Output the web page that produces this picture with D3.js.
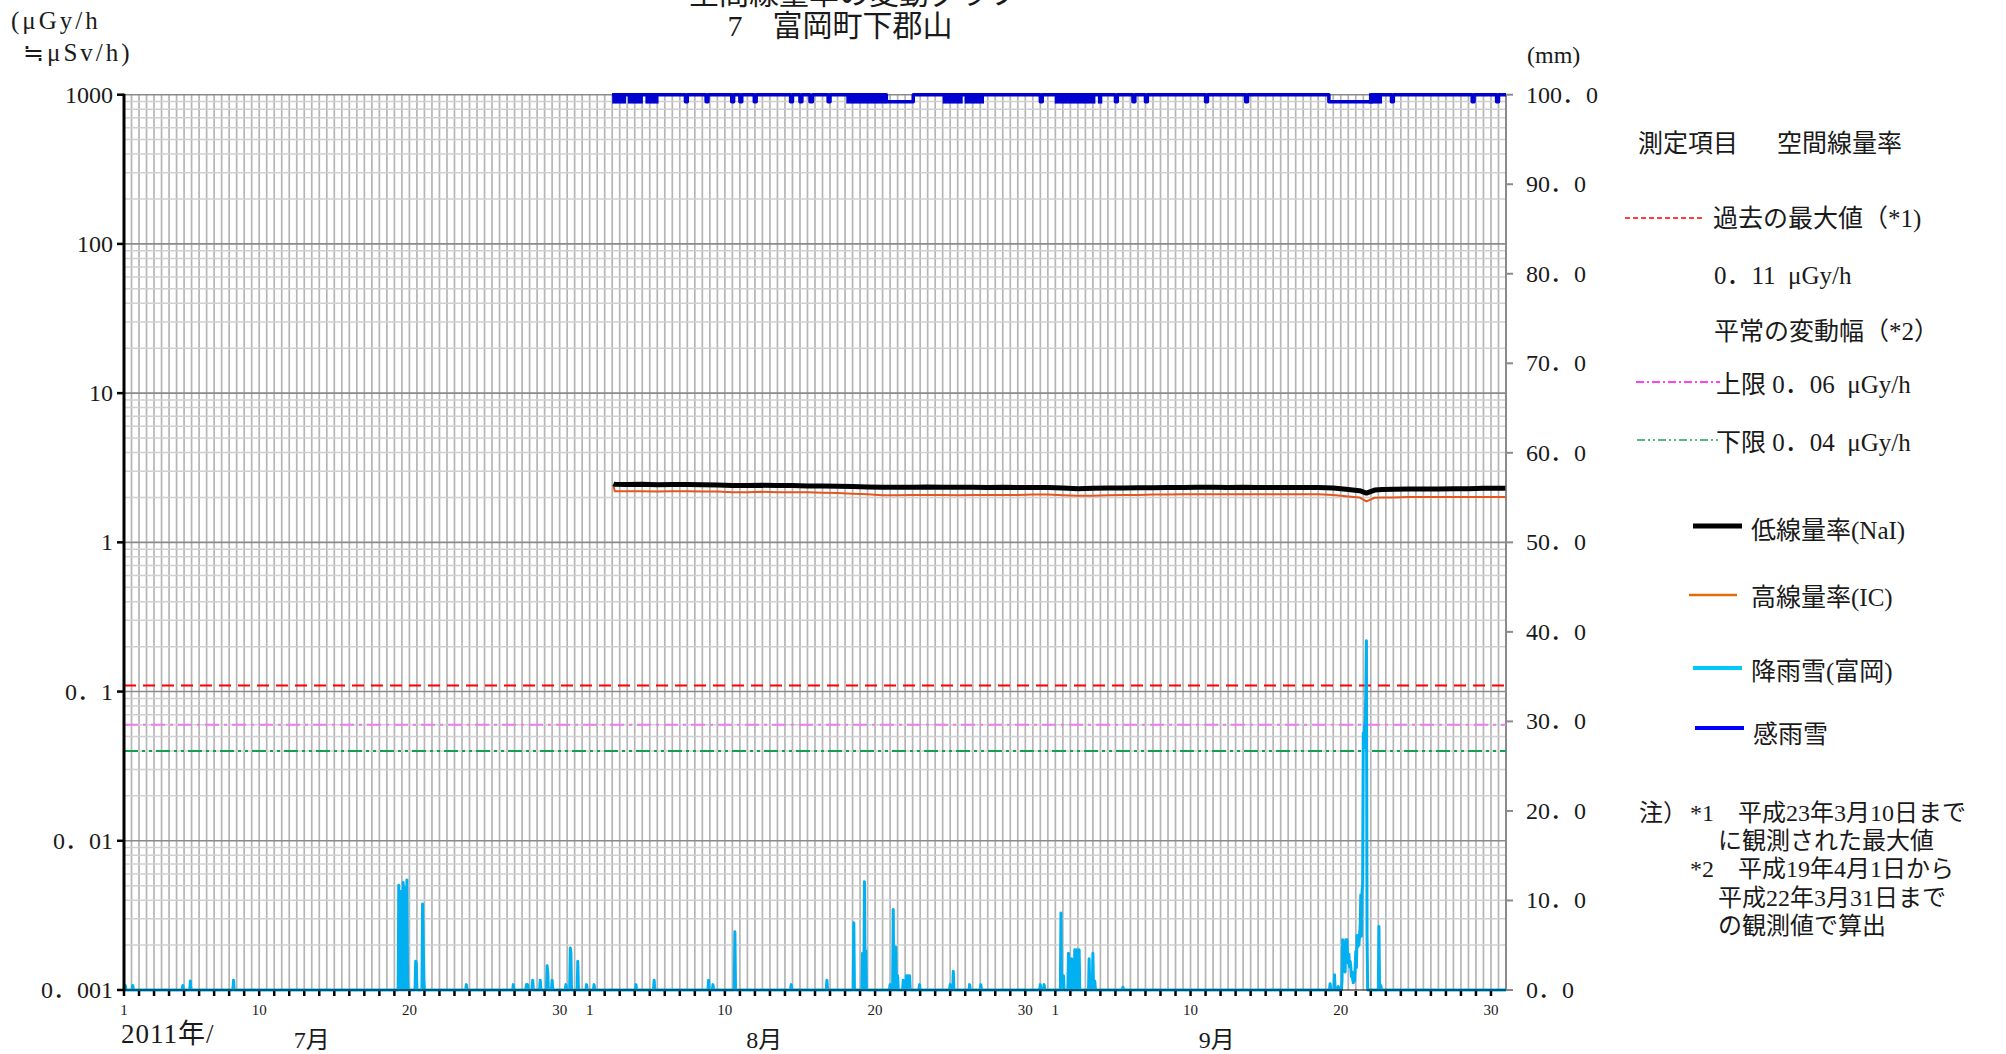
<!DOCTYPE html>
<html><head><meta charset="utf-8">
<script src="https://cdn.jsdelivr.net/npm/d3@7"></script>
<style>
body{margin:0;background:#fff;}
svg{display:block;}
text{font-family:'Liberation Serif','Noto Sans CJK JP',serif;fill:#1a1a1a;white-space:pre;}
</style></head><body>
<svg id="c" width="2006" height="1054"></svg>
<script>
// ---------------- data ----------------
const leftTicks = [0.001, 0.01, 0.1, 1, 10, 100, 1000];
const leftTickLabels = ["0．001", "0．01", "0．1", "1", "10", "100", "1000"];
const rightTicks = [0, 10, 20, 30, 40, 50, 60, 70, 80, 90, 100];
const rightTickLabels = ["0．0","10．0","20．0","30．0","40．0","50．0","60．0","70．0","80．0","90．0","100．0"];
const dayLabelDates = ["7/1 00","7/10 00","7/20 00","7/30 00","8/1 00","8/10 00","8/20 00","8/30 00","9/1 00","9/10 00","9/20 00","9/30 00"];
const dayLabels = ["1","10","20","30","1","10","20","30","1","10","20","30"];
const monthLabels = ["7月", "8月", "9月"];
const monthLabelDates = ["7/13 12", "8/12 15", "9/11 18"];

// reference levels (µGy/h)
const refNames = ["過去の最大値", "上限", "下限"];
const refValues = [0.11, 0.06, 0.04];

// dose rate (µGy/h)
const doseTimes = ["8/2 14","8/2 16","8/3 12","8/4 12","8/5 12","8/6 12","8/7 12","8/8 12","8/9 12","8/10 12",
 "8/11 12","8/12 12","8/13 12","8/14 12","8/15 12","8/16 12","8/17 12","8/18 12","8/19 12","8/20 12",
 "8/21 12","8/22 12","8/23 12","8/24 12","8/25 12","8/26 12","8/27 12","8/28 12","8/29 12","8/30 12","8/31 12",
 "9/1 12","9/2 12","9/3 12","9/4 12","9/5 12","9/6 12","9/7 12","9/8 12","9/9 12","9/10 12",
 "9/11 12","9/12 12","9/13 12","9/14 12","9/15 12","9/16 12","9/17 12","9/18 12","9/19 12",
 "9/20 12","9/21 06","9/21 17","9/22 06","9/22 18","9/23 12","9/24 12","9/25 12","9/26 12","9/27 12",
 "9/28 12","9/29 12","9/30 23"];
const naiValues = [2.47,2.45,2.44,2.45,2.43,2.44,2.44,2.43,2.42,2.40,
 2.40,2.41,2.40,2.40,2.39,2.39,2.38,2.37,2.35,2.34,
 2.34,2.34,2.35,2.34,2.34,2.34,2.33,2.34,2.33,2.33,2.33,
 2.31,2.29,2.30,2.31,2.31,2.32,2.32,2.33,2.33,2.34,
 2.34,2.33,2.34,2.33,2.33,2.33,2.33,2.33,2.31,
 2.26,2.22,2.14,2.24,2.26,2.27,2.28,2.28,2.28,2.29,
 2.29,2.30,2.30];
const icValues = [2.42,2.20,2.20,2.20,2.19,2.20,2.20,2.19,2.19,2.17,
 2.17,2.18,2.17,2.17,2.17,2.15,2.14,2.12,2.10,2.07,
 2.07,2.08,2.08,2.08,2.07,2.08,2.08,2.08,2.08,2.09,2.09,
 2.07,2.05,2.05,2.07,2.08,2.08,2.09,2.09,2.10,2.10,
 2.10,2.10,2.10,2.10,2.10,2.10,2.10,2.10,2.08,
 2.03,2.00,1.88,1.99,2.00,2.00,2.01,2.01,2.01,2.01,
 2.01,2.01,2.01];

// precipitation (mm/h), hours not listed are 0
const rainTimes = ["7/1 02","7/1 14","7/4 22","7/5 10","7/8 07",
 "7/19 07","7/19 08","7/19 10","7/19 11","7/19 14","7/19 15","7/19 18","7/19 20","7/19 21",
 "7/20 10","7/20 11","7/20 21","7/20 22","7/20 23","7/23 19","7/26 22","7/27 19","7/27 21",
 "7/28 05","7/28 17","7/29 04","7/29 05","7/29 12","7/30 10","7/30 17","7/30 18","7/31 05","7/31 19",
 "8/1 07","8/4 02","8/5 07","8/8 22","8/9 05","8/10 16","8/14 10","8/16 19","8/18 14",
 "8/19 04","8/19 07","8/19 09","8/21 00","8/21 05","8/21 09","8/21 12","8/21 21",
 "8/22 02","8/22 05","8/22 07","8/22 23","8/25 00","8/25 05","8/26 07","8/27 01","8/31 00","8/31 06",
 "9/1 09","9/1 13","9/1 21","9/2 02","9/2 07","9/2 10","9/2 14","9/3 06","9/3 12","9/3 15","9/5 12",
 "9/19 07","9/19 14","9/19 20",
 "9/20 02","9/20 03","9/20 04","9/20 05","9/20 06","9/20 07","9/20 08","9/20 09","9/20 10","9/20 11",
 "9/20 12","9/20 13","9/20 14","9/20 15","9/20 16","9/20 17","9/20 18","9/20 19","9/20 20","9/20 21",
 "9/20 22","9/20 23",
 "9/21 00","9/21 01","9/21 02","9/21 03","9/21 04","9/21 05","9/21 06","9/21 07","9/21 08","9/21 09",
 "9/21 10","9/21 11","9/21 12","9/21 13","9/21 14","9/21 15","9/21 16","9/21 17","9/21 18",
 "9/22 13","9/22 16"];
const rainMm = [0.5,0.5,0.5,1.0,1.1,
 11.7,2.0,11.0,3.0,12.0,4.0,11.5,12.3,1.0,
 3.2,3.0,9.6,5.6,1.2,0.6,0.6,0.6,0.6,
 1.1,1.1,2.7,2.0,1.1,0.6,4.7,4.1,3.2,0.6,
 0.6,0.6,1.1,1.1,0.6,6.5,0.6,1.1,7.5,
 4.1,12.1,4.4,0.6,9.0,4.8,1.6,1.1,
 1.6,1.6,1.6,0.6,0.6,2.1,0.6,0.6,0.6,0.6,
 8.6,1.6,4.1,3.5,4.5,4.5,4.5,3.5,4.1,1.0,0.3,
 0.7,1.7,0.4,
 1.0,5.6,3.0,5.0,4.5,2.0,5.6,4.0,5.6,3.5,
 3.0,4.0,2.6,3.2,2.6,1.5,2.0,1.2,0.8,1.5,
 1.0,2.5,
 4.3,2.5,6.1,4.8,6.0,5.0,6.1,7.1,10.6,6.0,
 11.0,12.0,28.7,27.0,29.5,30.0,33.0,39.0,6.0,
 7.1,0.5];

// rain sensor (感雨雪): periods when rain was sensed
const senseOn = "8/2 12";
const senseStart = ["8/2 12","8/3 13","8/4 17","8/7 09","8/8 18","8/10 11","8/11 00","8/11 23","8/14 09","8/15 00","8/15 16",
 "8/16 21","8/18 02","8/20 18","8/24 12","8/25 23","8/31 00","8/31 23","9/3 20","9/5 00","9/6 04","9/7 00",
 "9/11 00","9/13 16","9/19 05","9/21 21","9/23 09","9/28 18","9/30 09"];
const senseEnd = ["8/3 10","8/4 13","8/5 14","8/7 12","8/8 21","8/10 14","8/11 03","8/12 02","8/14 12","8/15 03","8/15 20",
 "8/17 00","8/20 18","8/22 13","8/25 20","8/27 06","8/31 03","9/3 16","9/4 03","9/5 03","9/6 07","9/7 03",
 "9/11 03","9/13 19","9/22 02","9/22 18","9/23 12","9/28 21","9/30 12"];
const senseKind = ["f","f","f","d","d","d","d","d","d","d","d",
 "d","f","d","f","f","d","f","f","d","d","d",
 "d","d","d","f","d","d","d"];

// ---------------- layout ----------------
const parse = s => d3.timeParse("%Y/%m/%d %H")("2011/" + s);
const L = 124, R = 1506, T = 94.7, B = 990;
const x = d3.scaleTime().domain([new Date(2011,6,1), new Date(2011,9,1)]).range([L, R]);
const yL = d3.scaleLog().domain([0.001, 1000]).range([B, T]);
const yR = d3.scaleLinear().domain([0, 100]).range([B, T]);

const svg = d3.select("#c");
svg.append("defs").append("clipPath").attr("id","clip")
  .append("rect").attr("x", L).attr("y", T - 4).attr("width", R - L).attr("height", B - T + 6);

// grid: vertical every 12 hours
const gGrid = svg.append("g");
const halfDays = d3.timeHour.every(12).range(new Date(2011,6,1,12), new Date(2011,9,1));
gGrid.selectAll("line.v").data(halfDays).join("line")
  .attr("x1", d => x(d)).attr("x2", d => x(d)).attr("y1", T).attr("y2", B)
  .attr("stroke", "#b5b5b5").attr("stroke-width", 1.7);
// minor horizontal
const minor = [];
for (let e = -3; e < 3; e++) for (let k = 2; k <= 9; k++) minor.push(k * Math.pow(10, e));
gGrid.selectAll("line.hm").data(minor).join("line")
  .attr("x1", L).attr("x2", R).attr("y1", d => yL(d)).attr("y2", d => yL(d))
  .attr("stroke", "#d0d0d0").attr("stroke-width", 1.5);
gGrid.selectAll("line.hM").data(leftTicks.slice(1, -1)).join("line")
  .attr("x1", L).attr("x2", R).attr("y1", d => yL(d)).attr("y2", d => yL(d))
  .attr("stroke", "#8a8a8a").attr("stroke-width", 1.6);
// top border & right axis
svg.append("line").attr("x1", L).attr("x2", R).attr("y1", T).attr("y2", T).attr("stroke", "#8a8a8a").attr("stroke-width", 1.6);
svg.append("line").attr("x1", R).attr("x2", R).attr("y1", T).attr("y2", B).attr("stroke", "#8a8a8a").attr("stroke-width", 2);

// reference lines
const refColors = ["#ff0000", "#f07af0", "#10a050"];
const refDash = ["12,7", "14,5,3,5", "14,4,3,4,3,4"];
svg.append("g").selectAll("line").data(refValues).join("line")
  .attr("x1", L).attr("x2", R).attr("y1", d => yL(d)).attr("y2", d => yL(d))
  .attr("stroke", (d,i) => refColors[i]).attr("stroke-width", 2)
  .attr("stroke-dasharray", (d,i) => refDash[i]);

const plot = svg.append("g").attr("clip-path", "url(#clip)");

// dose lines
const doseT = doseTimes.map(parse);
const lineL = d3.line().x(d => x(d[0])).y(d => yL(d[1]));
plot.append("path").datum(doseT.map((t,i) => [t, icValues[i]]))
  .attr("d", lineL).attr("fill", "none").attr("stroke", "#e4561c").attr("stroke-width", 2).attr("stroke-linejoin", "round");
plot.append("path").datum(doseT.map((t,i) => [t, naiValues[i]]))
  .attr("d", lineL).attr("fill", "none").attr("stroke", "#000").attr("stroke-width", 5).attr("stroke-linejoin", "round");

// rain line (hourly)
const rainMap = new Map(rainTimes.map((t,i) => [+parse(t), rainMm[i]]));
const hours = d3.timeHour.range(new Date(2011,6,1,0), new Date(2011,9,1,0));
const rainSeries = hours.map(h => [h, rainMap.get(+h) || 0]);
rainSeries.push([new Date(2011,9,1,0), 0]);
const lineR = d3.line().x(d => x(d[0])).y(d => yR(d[1]));
plot.append("path").datum(rainSeries).attr("d", lineR)
  .attr("fill", "none").attr("stroke", "#00b0f0").attr("stroke-width", 3).attr("stroke-linejoin", "round");

// rain sensor line
const sensePts = [[parse(senseOn), 100]];
const dip = 99.2;
senseStart.forEach((s,i) => {
  if (senseKind[i] === "d") {
    sensePts.push([parse(s), 100], [parse(s), dip], [parse(senseEnd[i]), dip], [parse(senseEnd[i]), 100]);
  }
});
sensePts.push([new Date(2011,9,1,0), 100]);
sensePts.sort((a,b) => a[0] - b[0]);
plot.selectAll("rect.sf").data(senseStart.map((s,i) => i).filter(i => senseKind[i] === "f")).join("rect")
  .attr("x", i => x(parse(senseStart[i]))).attr("width", i => x(parse(senseEnd[i])) - x(parse(senseStart[i])))
  .attr("y", yR(100) - 1.5).attr("height", yR(dip) - yR(100) + 3.2).attr("fill", "#0000d0");
plot.append("path").datum(sensePts).attr("d", lineR)
  .attr("fill", "none").attr("stroke", "#0000d0").attr("stroke-width", 3.5).attr("stroke-linejoin", "round");

// axes
svg.append("line").attr("x1", L).attr("x2", R).attr("y1", B).attr("y2", B).attr("stroke", "#000").attr("stroke-width", 1);
svg.append("line").attr("x1", L).attr("x2", L).attr("y1", T - 1).attr("y2", B + 1).attr("stroke", "#000").attr("stroke-width", 3);
svg.append("g").selectAll("line").data(leftTicks).join("line")
  .attr("x1", L - 7).attr("x2", L).attr("y1", d => yL(d)).attr("y2", d => yL(d)).attr("stroke", "#000").attr("stroke-width", 2.5);
svg.append("g").selectAll("text").data(leftTicks).join("text")
  .attr("x", 113).attr("y", d => yL(d) + 8).attr("text-anchor", "end")
  .style("font-size", "24px").text((d,i) => leftTickLabels[i]);
svg.append("g").selectAll("line").data(rightTicks).join("line")
  .attr("x1", R).attr("x2", R + 7).attr("y1", d => yR(d)).attr("y2", d => yR(d)).attr("stroke", "#8a8a8a").attr("stroke-width", 2);
svg.append("g").selectAll("text").data(rightTicks).join("text")
  .attr("x", 1526).attr("y", d => yR(d) + 8)
  .style("font-size", "24px").text((d,i) => rightTickLabels[i]);

// daily ticks
const days = d3.timeDay.range(new Date(2011,6,1), new Date(2011,9,1));
svg.append("g").selectAll("line").data(days).join("line")
  .attr("x1", d => x(d)).attr("x2", d => x(d)).attr("y1", B + 1).attr("y2", B + 6)
  .attr("stroke", "#000").attr("stroke-width", 2.5);
svg.append("g").selectAll("text").data(dayLabelDates).join("text")
  .attr("x", d => x(parse(d))).attr("y", 1015).attr("text-anchor", "middle")
  .style("font-size", "15px").text((d,i) => dayLabels[i]);
svg.append("g").selectAll("text").data(monthLabelDates).join("text")
  .attr("x", d => x(parse(d))).attr("y", 1048).attr("text-anchor", "middle")
  .style("font-size", "24px").text((d,i) => monthLabels[i]);
svg.append("text").attr("x", 121).attr("y", 1043).style("font-size", "27px").style("letter-spacing", "1px").text("2011年/");

// titles & units
svg.append("text").attr("x", 854).attr("y", 4).attr("text-anchor", "middle").style("font-size", "30px").text("空間線量率の変動グラフ");
svg.append("text").attr("x", 840).attr("y", 36).attr("text-anchor", "middle").style("font-size", "30px").text("7　富岡町下郡山");
svg.append("text").attr("x", 11).attr("y", 29).style("font-size", "25px").style("letter-spacing", "3px").text("(μGy/h");
svg.append("text").attr("x", 23).attr("y", 61).style("font-size", "25px").style("letter-spacing", "3px").text("≒μSv/h)");
svg.append("text").attr("x", 1527).attr("y", 63).style("font-size", "24px").text("(mm)");

// legend
const lg = svg.append("g");
const fs = "25px";
lg.append("text").attr("x", 1638).attr("y", 152).style("font-size", fs).text("測定項目");
lg.append("text").attr("x", 1777).attr("y", 152).style("font-size", fs).text("空間線量率");
lg.append("line").attr("x1", 1625).attr("x2", 1703).attr("y1", 218).attr("y2", 218).attr("stroke", "#ff0000").attr("stroke-width", 1.5).attr("stroke-dasharray", "5,3");
lg.append("text").attr("x", 1713).attr("y", 227).style("font-size", fs).text("過去の最大値（*1)");
lg.append("text").attr("x", 1714).attr("y", 284).style("font-size", fs).text("0．11  μGy/h");
lg.append("text").attr("x", 1714).attr("y", 340).style("font-size", fs).text("平常の変動幅（*2）");
lg.append("line").attr("x1", 1636).attr("x2", 1720).attr("y1", 382).attr("y2", 382).attr("stroke", "#ff00ff").attr("stroke-width", 1.5).attr("stroke-dasharray", "8,3,2,3");
lg.append("text").attr("x", 1716).attr("y", 393).style("font-size", fs).text("上限 0．06  μGy/h");
lg.append("line").attr("x1", 1637).attr("x2", 1718).attr("y1", 440).attr("y2", 440).attr("stroke", "#20a060").attr("stroke-width", 1.5).attr("stroke-dasharray", "8,3,2,3,2,3");
lg.append("text").attr("x", 1716).attr("y", 451).style("font-size", fs).text("下限 0．04  μGy/h");
lg.append("line").attr("x1", 1693).attr("x2", 1742).attr("y1", 526).attr("y2", 526).attr("stroke", "#000").attr("stroke-width", 5);
lg.append("text").attr("x", 1751).attr("y", 539).style("font-size", fs).text("低線量率(NaI)");
lg.append("line").attr("x1", 1689).attr("x2", 1737).attr("y1", 595).attr("y2", 595).attr("stroke", "#e36c0a").attr("stroke-width", 2.5);
lg.append("text").attr("x", 1751).attr("y", 606).style("font-size", fs).text("高線量率(IC)");
lg.append("line").attr("x1", 1693).attr("x2", 1742).attr("y1", 668).attr("y2", 668).attr("stroke", "#00c8f8").attr("stroke-width", 4);
lg.append("text").attr("x", 1751).attr("y", 680).style("font-size", fs).text("降雨雪(富岡)");
lg.append("line").attr("x1", 1695).attr("x2", 1744).attr("y1", 728).attr("y2", 728).attr("stroke", "#0000ff").attr("stroke-width", 4);
lg.append("text").attr("x", 1753).attr("y", 743).style("font-size", fs).text("感雨雪");
const nfs = "24px";
lg.append("text").attr("x", 1639).attr("y", 821).style("font-size", nfs).text("注）");
lg.append("text").attr("x", 1690).attr("y", 821).style("font-size", nfs).text("*1　平成23年3月10日まで");
lg.append("text").attr("x", 1718).attr("y", 849).style("font-size", nfs).text("に観測された最大値");
lg.append("text").attr("x", 1690).attr("y", 877).style("font-size", nfs).text("*2　平成19年4月1日から");
lg.append("text").attr("x", 1718).attr("y", 906).style("font-size", nfs).text("平成22年3月31日まで");
lg.append("text").attr("x", 1718).attr("y", 934).style("font-size", nfs).text("の観測値で算出");
</script>
</body></html>
